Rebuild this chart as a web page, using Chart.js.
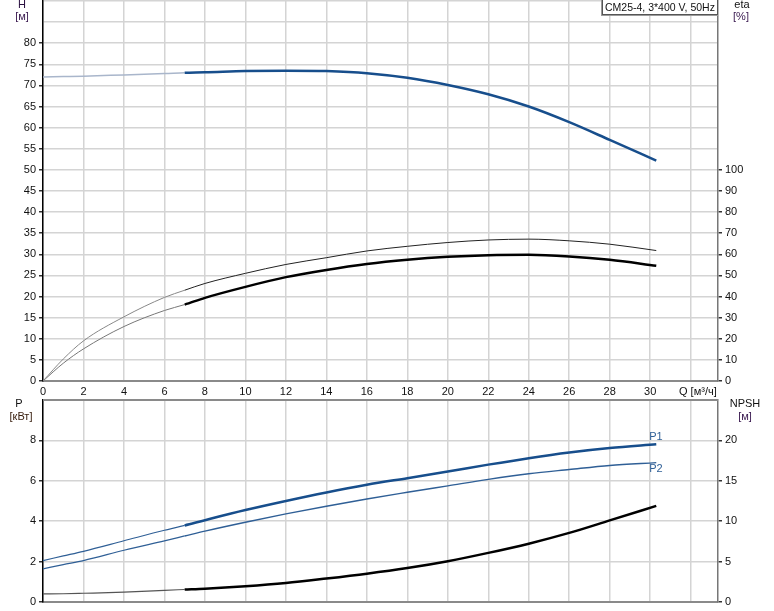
<!DOCTYPE html>
<html lang="ru">
<head>
<meta charset="UTF-8">
<title>CM25-4, 3*400 V, 50Hz</title>
<script src="https://cdn.jsdelivr.net/npm/chart.js"></script>
<style>
    body { margin: 0; background: #fff; }
    #wrap { position: relative; width: 774px; height: 611px; }
    #c1, #c2 { position: absolute; left: 0; }
    #c1 { top: 0; }
    #c2 { top: 390px; }
</style>
</head>
<body>
<div id="wrap">
    <canvas id="c1" width="774" height="400"></canvas>
    <canvas id="c2" width="774" height="221"></canvas>
</div>
<script>
// расход Q, м³/ч
const Q = [0, 1, 2, 4, 6, 7, 8, 10, 12, 14, 16, 18, 20, 22, 24, 26, 28, 30.3];
// напор H, м
const H = [72.0, 72.1, 72.2, 72.5, 72.8, 73.0, 73.1, 73.4, 73.5, 73.4, 72.9, 71.8, 70.1, 67.9, 65.0, 61.3, 57.1, 52.2];
// КПД, %
const etaUpper = [0, 10.4, 19.0, 30.4, 39.6, 43.0, 46.2, 51.0, 55.2, 58.4, 61.6, 63.8, 65.6, 66.8, 67.2, 66.4, 64.8, 61.8];
const etaLower = [0, 8.4, 15.2, 25.8, 33.4, 36.2, 39.4, 44.6, 49.2, 52.6, 55.4, 57.4, 58.8, 59.6, 59.8, 59.0, 57.4, 54.6];
// мощность, кВт
const P1 = [2.05, 2.28, 2.51, 3.03, 3.55, 3.79, 4.05, 4.55, 5.0, 5.42, 5.8, 6.13, 6.46, 6.8, 7.12, 7.4, 7.62, 7.81];
const P2 = [1.64, 1.85, 2.05, 2.56, 3.03, 3.27, 3.51, 3.95, 4.36, 4.74, 5.1, 5.43, 5.75, 6.07, 6.35, 6.56, 6.76, 6.9];
// NPSH, м
const NPSH = [1.0, 1.02, 1.08, 1.22, 1.45, 1.55, 1.65, 1.95, 2.35, 2.9, 3.5, 4.2, 5.05, 6.08, 7.22, 8.55, 10.1, 11.9];

const xTicks = [0, 2, 4, 6, 8, 10, 12, 14, 16, 18, 20, 22, 24, 26, 28, 30, 32];
const Q_START = 7;   // рабочий участок начинается отсюда

const GRID = '#d4d4d4';
const BLUE = '#174e8c';
Chart.defaults.font.family = '"Liberation Sans", Arial, sans-serif';
Chart.defaults.font.size = 11;
Chart.defaults.color = '#111';

const pts = arr => Q.map((q, i) => ({ x: q, y: arr[i] }));

// тонкая линия до Q_START, толстая после
function curve(arr, axis, color, width, thinColor, thinWidth) {
    return {
        data: pts(arr),
        yAxisID: axis,
        borderColor: color,
        borderWidth: width,
        pointRadius: 0,
        cubicInterpolationMode: 'monotone',
        segment: {
            borderColor: c => c.p0.parsed.x < Q_START ? thinColor : undefined,
            borderWidth: c => c.p0.parsed.x < Q_START ? thinWidth : undefined
        }
    };
}

const tickCol = lim => c => (c.tick && c.tick.value <= lim) ? '#333' : 'rgba(0,0,0,0)';

function xScale(showLabels, h) {
    return {
        type: 'linear', min: 0, max: 33.35,
        afterBuildTicks: s => { s.ticks = xTicks.map(v => ({ value: v })); },
        ticks: { display: showLabels, autoSkip: false, maxRotation: 0, padding: 4,
                 callback: v => v <= 30 ? v : '' },
        grid: { color: GRID, lineWidth: 1.5, drawTicks: false },
        border: { color: '#8a8a8a', width: 2 },
        afterFit: s => { s.height = h; s.paddingLeft = 0; s.paddingRight = 0; }
    };
}

function sideScale(pos, max, step, lim, grid, w, border) {
    return {
        position: pos, min: 0, max: max,
        ticks: { stepSize: step, autoSkip: false, padding: 3,
                 callback: v => v <= lim ? v : '' },
        grid: { color: GRID, lineWidth: 1.5, drawOnChartArea: grid, tickLength: 4, tickColor: tickCol(lim) },
        border: { color: border, width: 1.5 },
        afterFit: s => { s.width = w; s.paddingTop = 0; s.paddingBottom = 0; }
    };
}

function texts(items, dy) {
    return {
        id: 'texts',
        afterDraw(chart) {
            const ctx = chart.ctx;
            ctx.save();
            ctx.font = '11px "Liberation Sans", Arial, sans-serif';
            ctx.textBaseline = 'middle';
            items.forEach(t => {
                ctx.fillStyle = t.color || '#111';
                ctx.textAlign = t.align || 'center';
                ctx.fillText(t.text, t.x, t.y - dy);
            });
            ctx.restore();
        }
    };
}

const titleBox = {
    id: 'titleBox',
    afterDraw(chart) {
        const ctx = chart.ctx;
        ctx.save();
        ctx.fillStyle = '#9a9a9a';
        ctx.fillRect(601, 0, 117, 16);
        ctx.fillStyle = '#fff';
        ctx.fillRect(602.5, 0, 115, 14.5);
        ctx.strokeStyle = '#555';
        ctx.lineWidth = 1;
        ctx.strokeRect(602.5, -0.5, 115, 15);
        ctx.fillStyle = '#111';
        ctx.font = '10.5px "Liberation Sans", Arial, sans-serif';
        ctx.textBaseline = 'middle';
        ctx.textAlign = 'left';
        ctx.fillText('CM25-4, 3*400 V, 50Hz', 605, 8);
        ctx.restore();
    }
};

const topBorder = {
    id: 'topBorder',
    afterDraw(chart) {
        const a = chart.chartArea, ctx = chart.ctx;
        ctx.save();
        ctx.strokeStyle = '#8a8a8a';
        ctx.lineWidth = 2;
        ctx.beginPath();
        ctx.moveTo(a.left, a.top);
        ctx.lineTo(a.right, a.top);
        ctx.stroke();
        ctx.restore();
    }
};

new Chart(document.getElementById('c1'), {
    type: 'line',
    data: {
        datasets: [
            curve(H, 'y', BLUE, 2.5, '#a9b6cb', 1.5),
            curve(etaUpper, 'eta', '#222', 1, '#888', 1),
            curve(etaLower, 'eta', '#000', 2.5, '#777', 1)
        ]
    },
    options: {
        responsive: false,
        animation: false,
        layout: { padding: { top: 1, left: 0, right: 0, bottom: 0 } },
        plugins: { legend: { display: false }, tooltip: { enabled: false } },
        scales: {
            x: xScale(true, 19),
            y: sideScale('left', 90, 5, 80, true, 43, '#000'),
            eta: sideScale('right', 180, 10, 100, false, 56, '#777')
        }
    },
    plugins: [titleBox, texts([
        { text: 'H', x: 22, y: 5, color: '#2a1040' },
        { text: '[м]', x: 22, y: 17, color: '#3a1a50' },
        { text: 'eta', x: 742, y: 5 },
        { text: '[%]', x: 741, y: 17, color: '#3a1a50' },
        { text: 'Q [м³/ч]', x: 679, y: 392, align: 'left' }
    ], 0)]
});

new Chart(document.getElementById('c2'), {
    type: 'line',
    data: {
        datasets: [
            curve(P1, 'y', BLUE, 2.5, '#2f5f96', 1.2),
            curve(P2, 'y', '#2f5f96', 1.4, '#2f5f96', 1.2),
            curve(NPSH, 'npsh', '#000', 2.5, '#555', 1.2)
        ]
    },
    options: {
        responsive: false,
        animation: false,
        layout: { padding: { top: 10, left: 0, right: 0, bottom: 0 } },
        plugins: { legend: { display: false }, tooltip: { enabled: false } },
        scales: {
            x: xScale(false, 9),
            y: sideScale('left', 10, 2, 8, true, 43, '#000'),
            npsh: sideScale('right', 25, 5, 20, false, 56, '#777')
        }
    },
    plugins: [topBorder, texts([
        { text: 'P', x: 19, y: 404 },
        { text: '[кВт]', x: 21, y: 417, color: '#3a2010' },
        { text: 'NPSH', x: 745, y: 404 },
        { text: '[м]', x: 745, y: 417, color: '#3a1a50' },
        { text: 'P1', x: 656, y: 437, color: '#2f5f96' },
        { text: 'P2', x: 656, y: 469, color: '#2f5f96' }
    ], 390)]
});
</script>
</body>
</html>
